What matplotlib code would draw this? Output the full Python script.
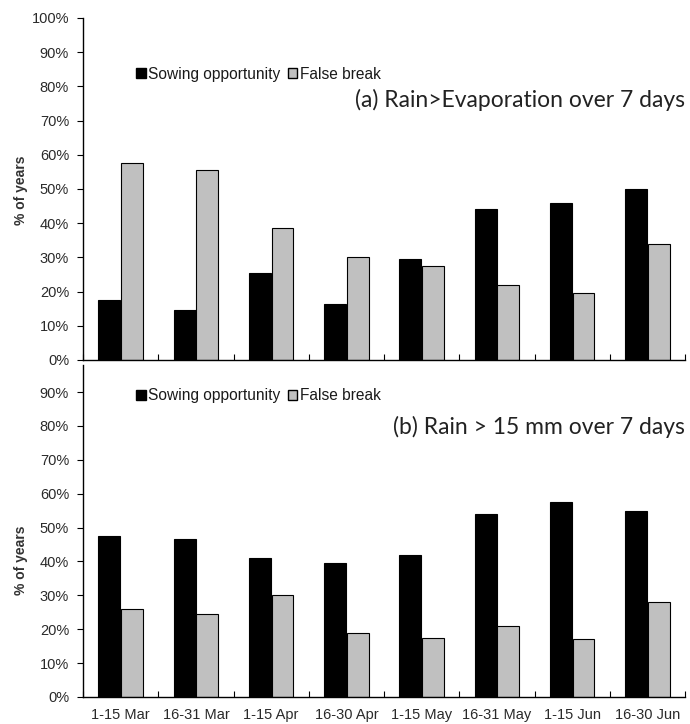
import matplotlib
matplotlib.use("Agg")
import matplotlib.pyplot as plt
import numpy as np
from matplotlib.patches import Patch

periods = ["1-15 Mar", "16-31 Mar", "1-15 Apr", "16-30 Apr",
           "1-15 May", "16-31 May", "1-15 Jun", "16-30 Jun"]
sowing_a = [0.175, 0.145, 0.255, 0.165, 0.295, 0.44, 0.46, 0.50]
false_a = [0.575, 0.555, 0.385, 0.30, 0.275, 0.22, 0.195, 0.34]
sowing_b = [0.475, 0.465, 0.41, 0.395, 0.42, 0.54, 0.575, 0.55]
false_b = [0.26, 0.245, 0.30, 0.19, 0.175, 0.21, 0.17, 0.28]
titles = ["(a) Rain>Evaporation over 7 days", "(b) Rain > 15 mm over 7 days"]
series_names = ["Sowing opportunity", "False break"]

plt.rcParams['font.family'] = ['Liberation Sans', 'DejaVu Sans']

fig = plt.figure(figsize=(6.9, 7.24), dpi=100)
ax_a = fig.add_axes([0.1203, 0.5028, 0.8725, 0.4724])
ax_b = fig.add_axes([0.1203, 0.0373, 0.8725, 0.4586])

x = np.arange(len(periods))
w = 0.29
gray = "#c0c0c0"
tick_col = "#2a2a2a"

def draw(ax, s, f, title, ymax, ytop, leg_y, title_y, show_x):
    ax.bar(x - w/2 - 0.005, s, w, color="black", edgecolor="black", linewidth=0.8)
    ax.bar(x + w/2 + 0.005, f, w, color=gray, edgecolor="black", linewidth=0.8)
    ax.set_xlim(-0.5, len(periods) - 0.5)
    ax.set_ylim(0, ymax)
    yt = np.arange(0, ytop + 0.001, 0.1)
    ax.set_yticks(yt)
    ax.set_yticklabels([f"{int(round(v*100))}%" for v in yt], fontsize=10.5, color=tick_col)
    ax.set_xticks(np.arange(-0.5, len(periods), 1.0))
    ax.set_xticklabels([])
    ax.tick_params(axis='x', which='major', direction='in', length=4, width=0.8)
    ax.tick_params(axis='y', which='major', direction='out', length=4, width=0.8, pad=6)
    if show_x:
        ax.set_xticks(x, minor=True)
        ax.set_xticklabels(periods, minor=True, fontsize=10.5, color=tick_col)
        ax.tick_params(axis='x', which='minor', length=0, pad=8)
    for sp in ["top", "right"]:
        ax.spines[sp].set_visible(False)
    for sp in ["left", "bottom"]:
        ax.spines[sp].set_linewidth(1.0)
    handles = [Patch(facecolor="black", edgecolor="black"),
               Patch(facecolor=gray, edgecolor="black")]
    ax.legend(handles, series_names, loc="center left", bbox_to_anchor=(0.078, leg_y),
              ncol=2, frameon=False, fontsize=11.2, handlelength=0.6, handleheight=0.6,
              handletextpad=0.15, columnspacing=0.5, borderaxespad=0,
              labelcolor="#1a1a1a")
    ax.text(1.0, title_y, title, transform=ax.transAxes, ha="right", va="center",
            fontsize=16.5, family=["Lato", "DejaVu Sans"], color="#222222")

draw(ax_a, sowing_a, false_a, titles[0], 1.0, 1.0, 0.836, 0.76, False)
draw(ax_b, sowing_b, false_b, titles[1], 0.98, 0.9, 0.907, 0.813, True)

fig.text(21/690, 1 - 190/724, "% of years", rotation=90, ha="center", va="center",
         fontsize=10, fontweight="bold", color="#333333")
fig.text(21/690, 1 - 560/724, "% of years", rotation=90, ha="center", va="center",
         fontsize=10, fontweight="bold", color="#333333")

fig.savefig("out.png", dpi=100)
